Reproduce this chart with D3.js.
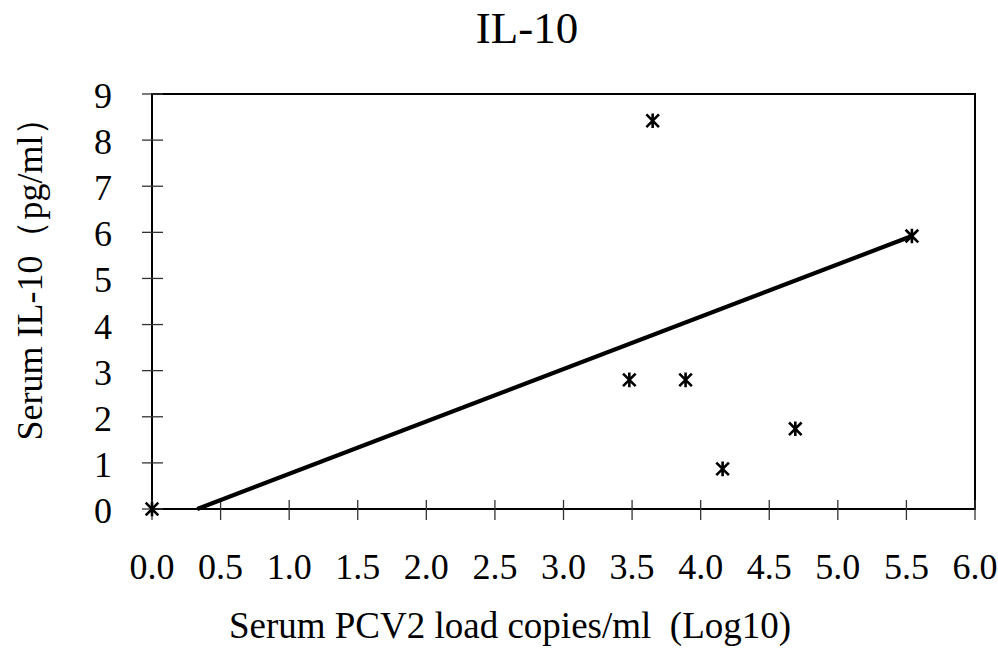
<!DOCTYPE html>
<html lang="en">
<head>
<meta charset="utf-8">
<title>IL-10</title>
<script src="https://cdn.jsdelivr.net/npm/d3@7"></script>
<style>
  body { margin: 0; background: #fff; }
  svg text { font-family: "Liberation Serif", "Times New Roman", serif; fill: #000; }
</style>
</head>
<body>
<script>
// data
var loadLog10 = [0.0, 3.65, 3.48, 3.89, 4.16, 4.69, 5.54];
var il10 = [0.0, 8.42, 2.80, 2.80, 0.87, 1.74, 5.92];
var trendX = [0.33, 5.54];
var trendY = [0.0, 5.92];
var xTicks = [0, 0.5, 1, 1.5, 2, 2.5, 3, 3.5, 4, 4.5, 5, 5.5, 6];
var yTicks = [0, 1, 2, 3, 4, 5, 6, 7, 8, 9];

var w = 998, h = 650;
var plotL = 152, plotR = 975, plotT = 94, plotB = 509;

var svg = d3.select("body").append("svg")
  .attr("width", w)
  .attr("height", h);

var x = d3.scaleLinear().domain([0, 6]).range([plotL, plotR]);
var y = d3.scaleLinear().domain([0, 9]).range([plotB, plotT]);

// frame
svg.append("rect")
  .attr("x", plotL).attr("y", plotT)
  .attr("width", plotR - plotL).attr("height", plotB - plotT)
  .attr("fill", "none").attr("stroke", "#000").attr("stroke-width", 2);

// x ticks (cross the axis)
svg.selectAll("line.xt").data(xTicks).enter().append("line")
  .attr("class", "xt")
  .attr("x1", function(d) { return x(d); })
  .attr("x2", function(d) { return x(d); })
  .attr("y1", plotB - 9).attr("y2", plotB + 11)
  .attr("stroke", "#333").attr("stroke-width", 1.3);

svg.selectAll("text.xl").data(xTicks).enter().append("text")
  .attr("class", "xl")
  .attr("x", function(d) { return x(d); })
  .attr("y", 579)
  .attr("text-anchor", "middle")
  .attr("font-size", "36px")
  .text(function(d) { return d.toFixed(1); });

// y ticks
svg.selectAll("line.yt").data(yTicks).enter().append("line")
  .attr("class", "yt")
  .attr("x1", plotL - 10).attr("x2", plotL + 11)
  .attr("y1", function(d) { return y(d); })
  .attr("y2", function(d) { return y(d); })
  .attr("stroke", "#333").attr("stroke-width", 1.3);

svg.selectAll("text.yl").data(yTicks).enter().append("text")
  .attr("class", "yl")
  .attr("x", 112)
  .attr("y", function(d) { return y(d) + 14; })
  .attr("text-anchor", "end")
  .attr("font-size", "36px")
  .text(function(d) { return d; });

// trend line
svg.append("line")
  .attr("x1", x(trendX[0])).attr("y1", y(trendY[0]))
  .attr("x2", x(trendX[1])).attr("y2", y(trendY[1]))
  .attr("stroke", "#000").attr("stroke-width", 4.2);

// asterisk markers
var pts = loadLog10.map(function(v, i) { return [v, il10[i]]; });
var star = svg.selectAll("g.pt").data(pts).enter().append("g")
  .attr("class", "pt")
  .attr("transform", function(d) { return "translate(" + x(d[0]) + "," + y(d[1]) + ")"; });
var s = 6.3;
star.append("path")
  .attr("d", "M" + (-s) + "," + (-s) + "L" + s + "," + s +
             "M" + (-s) + "," + s + "L" + s + "," + (-s) +
             "M0," + (-s - 1) + "L0," + (s + 1))
  .attr("stroke", "#000").attr("stroke-width", 2.6).attr("fill", "none");

// title and axis labels
svg.append("text")
  .attr("x", 527).attr("y", 43)
  .attr("text-anchor", "middle")
  .attr("font-size", "45px")
  .text("IL-10");

svg.append("text")
  .attr("x", 510).attr("y", 638)
  .attr("text-anchor", "middle")
  .attr("font-size", "37px")
  .attr("xml:space", "preserve")
  .text("Serum PCV2 load copies/ml  (Log10)");

svg.append("text")
  .attr("transform", "translate(42,270) rotate(-90)")
  .attr("text-anchor", "middle")
  .attr("font-size", "36px")
  .text("Serum IL-10（pg/ml）");
</script>
</body>
</html>
